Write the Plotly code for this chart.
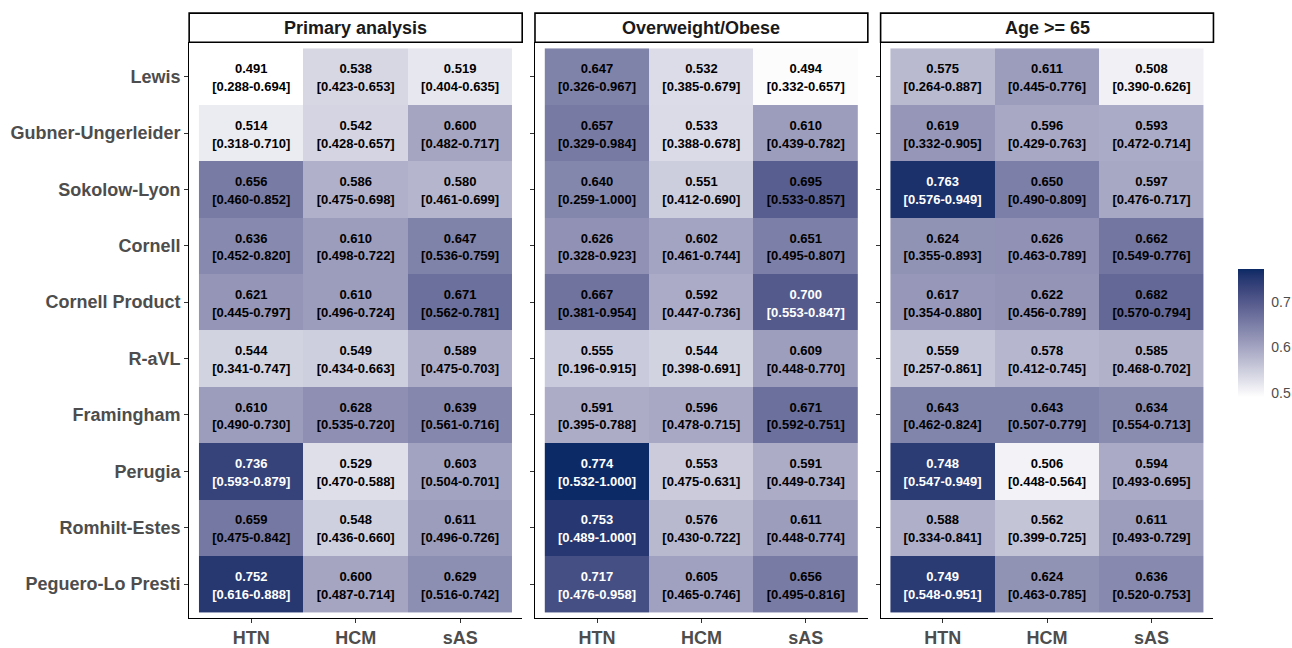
import plotly.graph_objects as go

# ---- data -----------------------------------------------------------------
criteria = ["Lewis", "Gubner-Ungerleider", "Sokolow-Lyon", "Cornell", "Cornell Product",
            "R-aVL", "Framingham", "Perugia", "Romhilt-Estes", "Peguero-Lo Presti"]
groups = ["HTN", "HCM", "sAS"]
panels = ["Primary analysis", "Overweight/Obese", "Age >= 65"]

# AUC with 95% CI, rows = criteria, columns = HTN / HCM / sAS
primary_auc = [[0.491, 0.538, 0.519], [0.514, 0.542, 0.600], [0.656, 0.586, 0.580],
               [0.636, 0.610, 0.647], [0.621, 0.610, 0.671], [0.544, 0.549, 0.589],
               [0.610, 0.628, 0.639], [0.736, 0.529, 0.603], [0.659, 0.548, 0.611],
               [0.752, 0.600, 0.629]]
primary_lo = [[0.288, 0.423, 0.404], [0.318, 0.428, 0.482], [0.460, 0.475, 0.461],
              [0.452, 0.498, 0.536], [0.445, 0.496, 0.562], [0.341, 0.434, 0.475],
              [0.490, 0.535, 0.561], [0.593, 0.470, 0.504], [0.475, 0.436, 0.496],
              [0.616, 0.487, 0.516]]
primary_hi = [[0.694, 0.653, 0.635], [0.710, 0.657, 0.717], [0.852, 0.698, 0.699],
              [0.820, 0.722, 0.759], [0.797, 0.724, 0.781], [0.747, 0.663, 0.703],
              [0.730, 0.720, 0.716], [0.879, 0.588, 0.701], [0.842, 0.660, 0.726],
              [0.888, 0.714, 0.742]]

obese_auc = [[0.647, 0.532, 0.494], [0.657, 0.533, 0.610], [0.640, 0.551, 0.695],
             [0.626, 0.602, 0.651], [0.667, 0.592, 0.700], [0.555, 0.544, 0.609],
             [0.591, 0.596, 0.671], [0.774, 0.553, 0.591], [0.753, 0.576, 0.611],
             [0.717, 0.605, 0.656]]
obese_lo = [[0.326, 0.385, 0.332], [0.329, 0.388, 0.439], [0.259, 0.412, 0.533],
            [0.328, 0.461, 0.495], [0.381, 0.447, 0.553], [0.196, 0.398, 0.448],
            [0.395, 0.478, 0.592], [0.532, 0.475, 0.449], [0.489, 0.430, 0.448],
            [0.476, 0.465, 0.495]]
obese_hi = [[0.967, 0.679, 0.657], [0.984, 0.678, 0.782], [1.000, 0.690, 0.857],
            [0.923, 0.744, 0.807], [0.954, 0.736, 0.847], [0.915, 0.691, 0.770],
            [0.788, 0.715, 0.751], [1.000, 0.631, 0.734], [1.000, 0.722, 0.774],
            [0.958, 0.746, 0.816]]

elderly_auc = [[0.575, 0.611, 0.508], [0.619, 0.596, 0.593], [0.763, 0.650, 0.597],
               [0.624, 0.626, 0.662], [0.617, 0.622, 0.682], [0.559, 0.578, 0.585],
               [0.643, 0.643, 0.634], [0.748, 0.506, 0.594], [0.588, 0.562, 0.611],
               [0.749, 0.624, 0.636]]
elderly_lo = [[0.264, 0.445, 0.390], [0.332, 0.429, 0.472], [0.576, 0.490, 0.476],
              [0.355, 0.463, 0.549], [0.354, 0.456, 0.570], [0.257, 0.412, 0.468],
              [0.462, 0.507, 0.554], [0.547, 0.448, 0.493], [0.334, 0.399, 0.493],
              [0.548, 0.463, 0.520]]
elderly_hi = [[0.887, 0.776, 0.626], [0.905, 0.763, 0.714], [0.949, 0.809, 0.717],
              [0.893, 0.789, 0.776], [0.880, 0.789, 0.794], [0.861, 0.745, 0.702],
              [0.824, 0.779, 0.713], [0.949, 0.564, 0.695], [0.841, 0.725, 0.729],
              [0.951, 0.785, 0.753]]

colorbar_ticks = [0.5, 0.6, 0.7]

# ---- colour scale: white -> navy, interpolated in CIE Lab -----------------
LOW, HIGH = "#FFFFFF", "#0B2A66"


def _lin(c):
    c /= 255.0
    return c / 12.92 if c <= 0.04045 else ((c + 0.055) / 1.055) ** 2.4


def _gam(c):
    c = 12.92 * c if c <= 0.0031308 else 1.055 * c ** (1 / 2.4) - 0.055
    return max(0, min(255, round(c * 255)))


WHITE = (0.95047, 1.0, 1.08883)


def hex_to_lab(h):
    r, g, b = (_lin(int(h[i:i + 2], 16)) for i in (1, 3, 5))
    x = 0.4124 * r + 0.3576 * g + 0.1805 * b
    y = 0.2126 * r + 0.7152 * g + 0.0722 * b
    z = 0.0193 * r + 0.1192 * g + 0.9505 * b
    f = lambda t: t ** (1 / 3) if t > 0.008856 else 7.787 * t + 16 / 116
    fx, fy, fz = f(x / WHITE[0]), f(y / WHITE[1]), f(z / WHITE[2])
    return 116 * fy - 16, 500 * (fx - fy), 200 * (fy - fz)


def lab_to_hex(L, a, b):
    fy = (L + 16) / 116
    fx, fz = fy + a / 500, fy - b / 200
    finv = lambda t: t ** 3 if t ** 3 > 0.008856 else (t - 16 / 116) / 7.787
    x, y, z = finv(fx) * WHITE[0], finv(fy) * WHITE[1], finv(fz) * WHITE[2]
    r = 3.2406 * x - 1.5372 * y - 0.4986 * z
    g = -0.9689 * x + 1.8758 * y + 0.0415 * z
    bb = 0.0557 * x - 0.2040 * y + 1.0570 * z
    return "#%02X%02X%02X" % (_gam(r), _gam(g), _gam(bb))


lab_lo, lab_hi = hex_to_lab(LOW), hex_to_lab(HIGH)
n_stops = 21
colorscale = []
for i in range(n_stops):
    t = i / (n_stops - 1)
    lab = [lo + (hi - lo) * t for lo, hi in zip(lab_lo, lab_hi)]
    colorscale.append([t, lab_to_hex(*lab)])

all_auc = [v for m in (primary_auc, obese_auc, elderly_auc) for row in m for v in row]
zmin, zmax = min(all_auc), max(all_auc)

# ---- layout geometry (pixels) ---------------------------------------------
W, H = 1292, 648
panel_px = [(189.3, 522.6), (535.4, 868.5), (881.3, 1214.4)]
panel_top, panel_bottom = 42.7, 624.3
strip_top = 13.3
FONT = "Liberation Sans, Arial, Helvetica, sans-serif"
GREY30 = "#4D4D4D"
CELL_FONT = 13

fig = go.Figure()
datasets = [(primary_auc, primary_lo, primary_hi),
            (obese_auc, obese_lo, obese_hi),
            (elderly_auc, elderly_lo, elderly_hi)]

for k, (auc, lo, hi) in enumerate(datasets):
    sfx = "" if k == 0 else str(k + 1)
    xa, ya = "x" + sfx, "y" + sfx
    fig.add_trace(go.Heatmap(
        z=auc, x=groups, y=criteria, coloraxis="coloraxis",
        xaxis=xa, yaxis=ya, hoverinfo="skip"))

    xs, ys, val_txt, ci_txt, colors = [], [], [], [], []
    for i, name in enumerate(criteria):
        for j, g in enumerate(groups):
            xs.append(g)
            ys.append(name)
            val_txt.append(f"{auc[i][j]:.3f}")
            ci_txt.append(f"[{lo[i][j]:.3f}-{hi[i][j]:.3f}]")
            colors.append("white" if auc[i][j] >= 0.7 else "black")

    # AUC value above the cell centre, CI below it
    fig.add_trace(go.Scatter(
        x=xs, y=ys, mode="text", text=val_txt, textposition="top center",
        xaxis=xa, yaxis=ya,
        textfont=dict(family=FONT, size=CELL_FONT, color=colors, weight="bold"),
        hoverinfo="skip", showlegend=False))
    fig.add_trace(go.Scatter(
        x=xs, y=ys, mode="text+markers", text=ci_txt, textposition="bottom center",
        marker=dict(size=6, opacity=0), xaxis=xa, yaxis=ya,
        textfont=dict(family=FONT, size=CELL_FONT, color=colors, weight="bold"),
        hoverinfo="skip", showlegend=False))

    x0, x1 = panel_px[k]
    dom = [x0 / W, x1 / W]
    fig.layout["xaxis" + sfx] = dict(
        domain=dom, anchor=ya, type="category", range=[-0.594, 2.594],
        showline=True, linecolor="black", linewidth=1.1, mirror=False,
        ticks="outside", ticklen=4, tickcolor="#333333", tickwidth=1.1,
        tickfont=dict(family=FONT, size=18, color=GREY30, weight="bold"),
        showgrid=False, zeroline=False, fixedrange=True)
    fig.layout["yaxis" + sfx] = dict(
        domain=[1 - panel_bottom / H, 1 - panel_top / H], anchor=xa,
        type="category", categoryorder="array", categoryarray=criteria,
        range=[9.593, -0.61],
        showline=True, linecolor="black", linewidth=1.1,
        ticks="outside", ticklen=4, tickcolor="#333333", tickwidth=1.1,
        showticklabels=(k == 0),
        tickfont=dict(family=FONT, size=18, color=GREY30, weight="bold"),
        showgrid=False, zeroline=False, fixedrange=True)

    # facet strip
    fig.add_shape(type="rect", xref="paper", yref="paper",
                  x0=dom[0], x1=dom[1], y0=1 - panel_top / H, y1=1 - strip_top / H,
                  line=dict(color="black", width=1.6), fillcolor="white", layer="above")
    fig.add_annotation(text=panels[k], xref="paper", yref="paper",
                       x=(dom[0] + dom[1]) / 2, y=1 - (panel_top + strip_top) / 2 / H,
                       showarrow=False, xanchor="center", yanchor="middle",
                       font=dict(family=FONT, size=18, color="#1A1A1A", weight="bold"))

fig.update_layout(
    width=W, height=H,
    margin=dict(l=0, r=0, t=0, b=0),
    paper_bgcolor="white", plot_bgcolor="white",
    showlegend=False,
    font=dict(family=FONT),
    coloraxis=dict(
        colorscale=colorscale, cmin=zmin, cmax=zmax,
        colorbar=dict(
            x=1239.3 / W, xanchor="left", y=1 - 336.3 / H, yanchor="middle",
            lenmode="pixels", len=127.5, thickness=26,
            xpad=0, ypad=0, outlinewidth=0,
            tickvals=colorbar_ticks, ticktext=[f"{v:.1f}" for v in colorbar_ticks],
            ticks="outside", ticklen=5, tickcolor="white", tickwidth=1,
            tickfont=dict(family=FONT, size=14, color=GREY30),
            title=dict(text=""),
        ),
    ),
)

fig.write_html("out.html")
